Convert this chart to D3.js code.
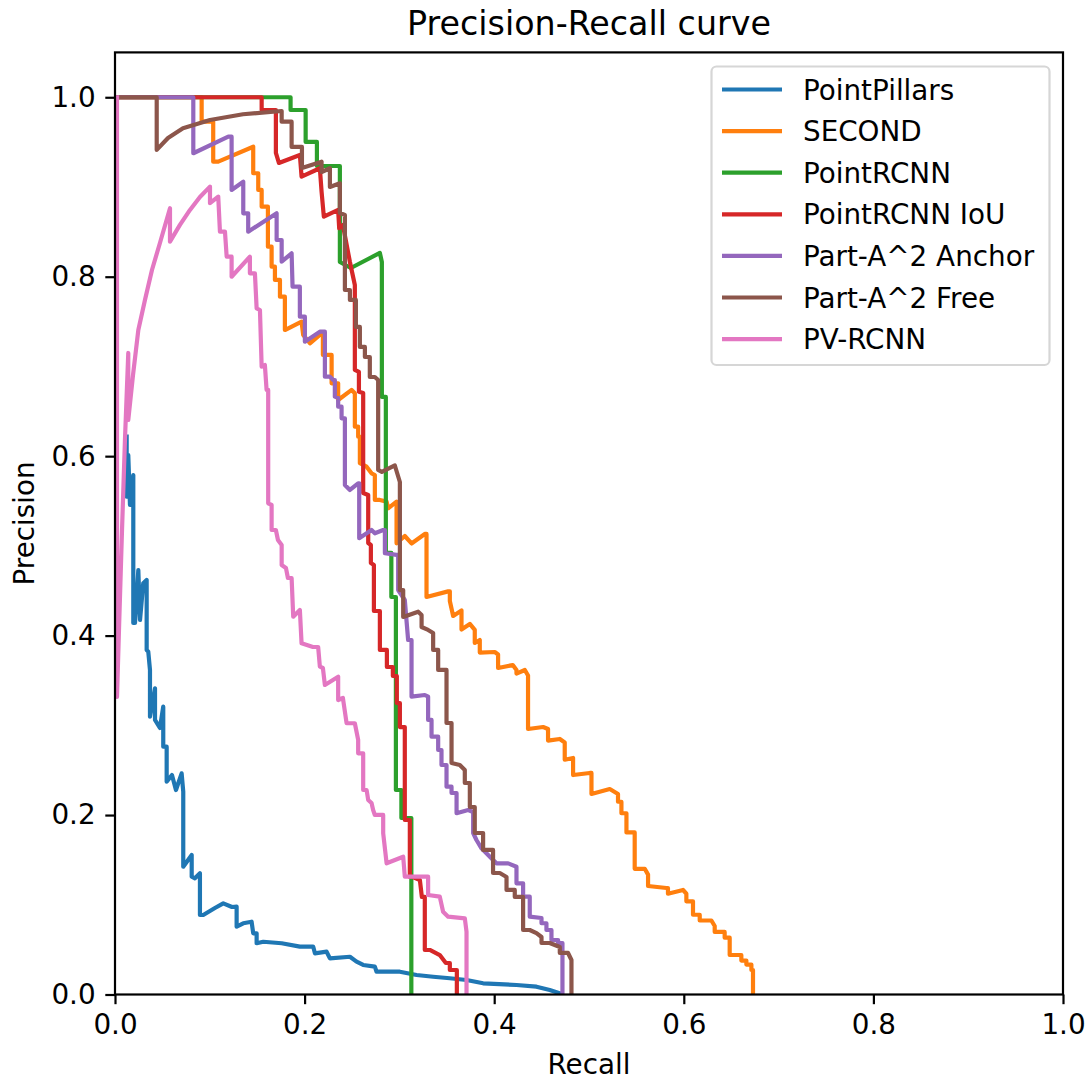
<!DOCTYPE html>
<html>
<head>
<meta charset="utf-8">
<script src="https://cdn.jsdelivr.net/npm/d3@7"></script>
<style>
  html, body { margin: 0; padding: 0; background: #fff; }
  svg { display: block; }
  text { font-family: "DejaVu Sans", sans-serif; fill: #000; }
</style>
</head>
<body>
<div id="chart"></div>
<script>
// ---------------- data (recall, precision) ----------------
const seriesNames = ["PointPillars", "SECOND", "PointRCNN", "PointRCNN IoU", "Part-A^2 Anchor", "Part-A^2 Free", "PV-RCNN"];
const seriesColors = ["#1f77b4", "#ff7f0e", "#2ca02c", "#d62728", "#9467bd", "#8c564b", "#e377c2"];
const xTicks = [0.0, 0.2, 0.4, 0.6, 0.8, 1.0];
const yTicks = [0.0, 0.2, 0.4, 0.6, 0.8, 1.0];

const pointPillars = [
  [0.0123,0.6217],[0.0123,0.5548],[0.0140,0.6013],[0.0158,0.5456],[0.0179,0.5679],[0.0193,0.5790],
  [0.0193,0.4141],[0.0211,0.4141],[0.0246,0.4731],[0.0264,0.4174],[0.0298,0.4583],[0.0334,0.4620],
  [0.0334,0.3840],[0.0351,0.3821],[0.0369,0.3617],[0.0369,0.3096],[0.0422,0.3413],[0.0422,0.3060],
  [0.0474,0.2970],[0.0509,0.3208],[0.0509,0.2762],[0.0545,0.2762],[0.0545,0.2372],[0.0601,0.2446],
  [0.0643,0.2279],[0.0703,0.2465],[0.0720,0.2260],[0.0720,0.1424],[0.0809,0.1555],[0.0809,0.1313],
  [0.0843,0.1295],[0.0896,0.1351],[0.0896,0.0886],[0.0931,0.0886],[0.1054,0.0964],[0.1142,0.1016],
  [0.1234,0.0975],[0.1283,0.0979],[0.1283,0.0756],[0.1353,0.0794],[0.1441,0.0811],[0.1458,0.0682],
  [0.1494,0.0682],[0.1494,0.0571],[0.1564,0.0588],[0.1758,0.0571],[0.1950,0.0533],[0.2091,0.0533],
  [0.2109,0.0459],[0.2232,0.0477],[0.2267,0.0403],[0.2478,0.0421],[0.2548,0.0366],[0.2618,0.0329],
  [0.2741,0.0310],[0.2759,0.0254],[0.3005,0.0254],[0.3181,0.0217],[0.3356,0.0198],[0.3532,0.0181],
  [0.3708,0.0162],[0.3883,0.0125],[0.4235,0.0106],[0.4446,0.0087],[0.4586,0.0050],[0.4692,0.0013]
];

const second = [
  [0,1],[0.0914,1],[0.0914,0.9728],[0.1036,0.9728],[0.1036,0.9282],[0.1089,0.9282],[0.1458,0.9449],
  [0.1458,0.9153],[0.1511,0.9153],[0.1511,0.8967],[0.1547,0.8967],[0.1547,0.8781],[0.1613,0.8781],
  [0.1613,0.8335],[0.1652,0.8335],[0.1652,0.8112],[0.1687,0.8112],[0.1687,0.7964],[0.1740,0.7964],
  [0.1740,0.7777],[0.1792,0.7777],[0.1792,0.7406],[0.1968,0.7499],[0.1985,0.7351],[0.2056,0.7258],
  [0.2161,0.7351],[0.2193,0.7351],[0.2193,0.7128],[0.2285,0.7128],[0.2285,0.6812],[0.2354,0.6812],
  [0.2354,0.6626],[0.2496,0.6738],[0.2530,0.6701],[0.2530,0.6329],[0.2565,0.6329],[0.2565,0.6217],
  [0.2583,0.6217],[0.2583,0.5921],[0.2654,0.5883],[0.2706,0.5809],[0.2741,0.5790],[0.2741,0.5512],
  [0.2794,0.5512],[0.2865,0.5493],[0.2881,0.5419],[0.2970,0.5493],[0.2970,0.5029],[0.3057,0.5110],
  [0.3128,0.5027],[0.3268,0.5133],[0.3286,0.5133],[0.3286,0.4430],[0.3514,0.4493],[0.3532,0.4493],
  [0.3532,0.4386],[0.3567,0.4219],[0.3655,0.4280],[0.3655,0.4067],[0.3743,0.4130],[0.3795,0.4063],
  [0.3795,0.3918],[0.3848,0.3951],[0.3848,0.3811],[0.4006,0.3817],[0.4041,0.3790],[0.4041,0.3639],
  [0.4196,0.3672],[0.4235,0.3617],[0.4235,0.3577],[0.4323,0.3617],[0.4357,0.3555],[0.4357,0.2959],
  [0.4516,0.2981],[0.4568,0.2959],[0.4568,0.2830],[0.4692,0.2848],[0.4744,0.2809],[0.4744,0.2617],
  [0.4832,0.2636],[0.4832,0.2446],[0.5008,0.2469],[0.5026,0.2469],[0.5026,0.2235],[0.5219,0.2290],
  [0.5306,0.2235],[0.5306,0.2148],[0.5342,0.2148],[0.5342,0.2020],[0.5395,0.2020],[0.5395,0.1806],
  [0.5482,0.1806],[0.5482,0.1401],[0.5588,0.1401],[0.5623,0.1336],[0.5623,0.1209],[0.5817,0.1187],
  [0.5833,0.1187],[0.5833,0.1123],[0.5992,0.1165],[0.6027,0.1123],[0.6027,0.1039],[0.6097,0.1039],
  [0.6097,0.0889],[0.6168,0.0889],[0.6168,0.0825],[0.6291,0.0825],[0.6326,0.0763],[0.6326,0.0697],
  [0.6431,0.0697],[0.6431,0.0633],[0.6484,0.0633],[0.6484,0.0440],[0.6607,0.0440],[0.6607,0.0378],
  [0.6660,0.0378],[0.6660,0.0334],[0.6713,0.0334],[0.6713,0.0273],[0.6730,0.0273],[0.6730,0]
];

const pointRcnn = [
  [0,1],[0.1852,1],[0.1852,0.9858],[0.2011,0.9858],[0.2011,0.9502],[0.2130,0.9502],[0.2130,0.9234],
  [0.2372,0.9234],[0.2372,0.8164],[0.2488,0.8097],[0.2794,0.8265],[0.2815,0.8164],[0.2815,0.6660],
  [0.2857,0.6660],[0.2857,0.4921],[0.2915,0.4921],[0.2915,0.4430],[0.2963,0.4430],[0.2963,0.2279],
  [0.3021,0.2279],[0.3021,0.1967],[0.3126,0.1967],[0.3126,0]
];

const pointRcnnIou = [
  [0,1],[0.1547,1],[0.1547,0.9858],[0.1697,0.9858],[0.1697,0.9379],[0.1729,0.9268],[0.1950,0.9357],
  [0.1968,0.9115],[0.2161,0.9209],[0.2179,0.8948],[0.2203,0.8669],[0.2354,0.8744],[0.2365,0.8540],
  [0.2404,0.8577],[0.2478,0.8164],[0.2530,0.7908],[0.2530,0.6961],[0.2573,0.6938],[0.2573,0.6719],
  [0.2618,0.6704],[0.2618,0.5590],[0.2671,0.5567],[0.2671,0.5032],[0.2699,0.5010],[0.2699,0.4809],
  [0.2731,0.4787],[0.2731,0.4274],[0.2794,0.4274],[0.2794,0.3840],[0.2868,0.3840],[0.2868,0.3650],
  [0.2931,0.3650],[0.2931,0.3550],[0.2973,0.3550],[0.2973,0.3249],[0.3005,0.3249],[0.3005,0.2981],
  [0.3057,0.2981],[0.3057,0.1945],[0.3110,0.1945],[0.3110,0.1310],[0.3142,0.1310],[0.3216,0.1276],
  [0.3237,0.1087],[0.3268,0.1087],[0.3268,0.0496],[0.3321,0.0496],[0.3426,0.0440],[0.3490,0.0351],
  [0.3532,0.0351],[0.3532,0.0273],[0.3606,0.0273],[0.3606,0]
];

const partA2Anchor = [
  [0,1],[0.0826,1],[0.0826,0.9376],[0.1195,0.9561],[0.1230,0.9561],[0.1230,0.8967],[0.1353,0.9059],
  [0.1353,0.8707],[0.1405,0.8707],[0.1405,0.8502],[0.1705,0.8707],[0.1705,0.8409],[0.1758,0.8409],
  [0.1758,0.8168],[0.1863,0.8261],[0.1873,0.7889],[0.1950,0.7889],[0.1950,0.7555],[0.2003,0.7555],
  [0.2003,0.7276],[0.2161,0.7387],[0.2214,0.7387],[0.2214,0.6886],[0.2267,0.6886],[0.2302,0.6849],
  [0.2319,0.6849],[0.2319,0.6663],[0.2354,0.6648],[0.2354,0.6551],[0.2390,0.6551],[0.2390,0.6422],
  [0.2425,0.6422],[0.2425,0.5679],[0.2478,0.5623],[0.2565,0.5698],[0.2576,0.5698],[0.2576,0.5085],
  [0.2706,0.5177],[0.2741,0.5140],[0.2829,0.5177],[0.2847,0.5177],[0.2847,0.4918],[0.2970,0.4899],
  [0.2987,0.4899],[0.2987,0.4508],[0.3057,0.4397],[0.3092,0.3951],[0.3128,0.3951],[0.3128,0.3319],
  [0.3268,0.3338],[0.3303,0.3319],[0.3303,0.3060],[0.3339,0.3060],[0.3339,0.2873],[0.3409,0.2873],
  [0.3409,0.2725],[0.3444,0.2725],[0.3444,0.2558],[0.3497,0.2558],[0.3497,0.2316],[0.3550,0.2316],
  [0.3550,0.2246],[0.3603,0.2246],[0.3603,0.2020],[0.3725,0.2056],[0.3778,0.2034],[0.3778,0.1800],
  [0.3813,0.1722],[0.3866,0.1629],[0.3988,0.1499],[0.4024,0.1462],[0.4147,0.1462],[0.4235,0.1424],
  [0.4235,0.1239],[0.4305,0.1239],[0.4305,0.1090],[0.4375,0.1090],[0.4375,0.0867],[0.4499,0.0853],
  [0.4499,0.0794],[0.4551,0.0794],[0.4551,0.0719],[0.4604,0.0719],[0.4604,0.0607],[0.4674,0.0607],
  [0.4674,0.0574],[0.4720,0.0574],[0.4720,0]
];

const partA2Free = [
  [0,1],[0.0440,1],[0.0440,0.9413],[0.0559,0.9546],[0.0717,0.9654],[0.1002,0.9747],[0.1350,0.9811],
  [0.1758,0.9847],[0.1758,0.9728],[0.1863,0.9728],[0.1863,0.9446],[0.1972,0.9446],[0.1972,0.9212],
  [0.2179,0.9282],[0.2179,0.9167],[0.2267,0.9209],[0.2267,0.9000],[0.2372,0.9041],[0.2372,0.8710],
  [0.2425,0.8688],[0.2425,0.7852],[0.2478,0.7852],[0.2478,0.7741],[0.2541,0.7741],[0.2541,0.7440],
  [0.2583,0.7440],[0.2583,0.7217],[0.2636,0.7217],[0.2636,0.7105],[0.2688,0.7105],[0.2688,0.6882],
  [0.2741,0.6882],[0.2776,0.6849],[0.2776,0.5846],[0.2815,0.5824],[0.2952,0.5896],[0.3005,0.5712],
  [0.3005,0.4508],[0.3040,0.4508],[0.3040,0.4208],[0.3198,0.4267],[0.3234,0.4230],[0.3234,0.4096],
  [0.3303,0.4063],[0.3356,0.4029],[0.3356,0.3840],[0.3409,0.3840],[0.3409,0.3617],[0.3497,0.3617],
  [0.3497,0.3026],[0.3550,0.3026],[0.3550,0.2580],[0.3637,0.2558],[0.3690,0.2502],[0.3690,0.2357],
  [0.3743,0.2357],[0.3743,0.2090],[0.3795,0.2090],[0.3795,0.1800],[0.3883,0.1800],[0.3883,0.1611],
  [0.3988,0.1611],[0.3988,0.1354],[0.4059,0.1354],[0.4130,0.1310],[0.4130,0.1165],[0.4217,0.1165],
  [0.4217,0.1087],[0.4305,0.1087],[0.4305,0.0719],[0.4375,0.0719],[0.4446,0.0685],[0.4499,0.0641],
  [0.4499,0.0574],[0.4586,0.0574],[0.4692,0.0529],[0.4692,0.0463],[0.4779,0.0463],[0.4815,0.0385],
  [0.4815,0]
];

const pvRcnn = [
  [0.0021,1],[0.0021,0.3316],[0.0042,0.4063],[0.0074,0.5177],[0.0105,0.6180],[0.0140,0.7150],
  [0.0140,0.6403],[0.0190,0.6905],[0.0246,0.7406],[0.0316,0.7741],[0.0390,0.8075],[0.0474,0.8376],
  [0.0580,0.8763],[0.0580,0.8391],[0.0685,0.8577],[0.0791,0.8744],[0.0896,0.8889],[0.1002,0.9004],
  [0.1002,0.8819],[0.1089,0.8892],[0.1107,0.8502],[0.1160,0.8502],[0.1178,0.8223],[0.1230,0.8223],
  [0.1230,0.8000],[0.1423,0.8223],[0.1423,0.8038],[0.1476,0.8038],[0.1494,0.7648],[0.1529,0.7629],
  [0.1547,0.6997],[0.1581,0.7016],[0.1599,0.6738],[0.1616,0.6738],[0.1616,0.5475],[0.1652,0.5456],
  [0.1652,0.5177],[0.1697,0.5177],[0.1719,0.5066],[0.1758,0.5010],[0.1758,0.4787],[0.1803,0.4754],
  [0.1824,0.4642],[0.1863,0.4642],[0.1880,0.4211],[0.1950,0.4286],[0.1968,0.3914],[0.2088,0.3873],
  [0.2143,0.3873],[0.2161,0.3654],[0.2193,0.3639],[0.2214,0.3450],[0.2354,0.3542],[0.2354,0.3282],
  [0.2404,0.3305],[0.2443,0.3023],[0.2530,0.3023],[0.2565,0.2837],[0.2565,0.2688],[0.2618,0.2688],
  [0.2618,0.2279],[0.2654,0.2279],[0.2671,0.2168],[0.2706,0.2134],[0.2723,0.2056],[0.2741,0.2001],
  [0.2829,0.2001],[0.2829,0.1797],[0.2865,0.1462],[0.3040,0.1536],[0.3057,0.1313],[0.3128,0.1313],
  [0.3303,0.1313],[0.3303,0.1109],[0.3426,0.1090],[0.3461,0.0923],[0.3514,0.0867],[0.3690,0.0849],
  [0.3708,0.0700],[0.3708,0]
];

const seriesData = [pointPillars, second, pointRcnn, pointRcnnIou, partA2Anchor, partA2Free, pvRcnn];

// ---------------- layout ----------------
const W = 1092, H = 1085;
const plot = { left: 115, right: 1063, top: 52.4, bottom: 994.5 };
const fontSize = 27.8;
const lineW = 4.2;
const spineW = 2.2;
const tickLen = 9.7;

const svg = d3.select("#chart").append("svg")
  .attr("width", W).attr("height", H)
  .attr("viewBox", `0 0 ${W} ${H}`);
svg.append("rect").attr("width", W).attr("height", H).attr("fill", "#fff");

const x = d3.scaleLinear().domain([0, 1]).range([plot.left, plot.right]);
const y = d3.scaleLinear().domain([0, 1.05]).range([plot.bottom, plot.top]);

svg.append("defs").append("clipPath").attr("id", "clip")
  .append("rect")
  .attr("x", plot.left).attr("y", plot.top)
  .attr("width", plot.right - plot.left).attr("height", plot.bottom - plot.top);

// lines
const line = d3.line().x(d => x(d[0])).y(d => y(d[1]));
const linesG = svg.append("g").attr("clip-path", "url(#clip)");
seriesData.forEach((data, i) => {
  linesG.append("path")
    .attr("d", line(data))
    .attr("fill", "none")
    .attr("stroke", seriesColors[i])
    .attr("stroke-width", lineW)
    .attr("stroke-linejoin", "round")
    .attr("stroke-linecap", "square");
});

// axes
const xAxis = d3.axisBottom(x).tickValues(xTicks).tickFormat(d3.format(".1f")).tickSizeOuter(0).tickSize(tickLen).tickPadding(9.7);
const yAxis = d3.axisLeft(y).tickValues(yTicks).tickFormat(d3.format(".1f")).tickSizeOuter(0).tickSize(tickLen).tickPadding(9.7);

const gx = svg.append("g").attr("transform", `translate(0,${plot.bottom})`).call(xAxis);
const gy = svg.append("g").attr("transform", `translate(${plot.left},0)`).call(yAxis);
[gx, gy].forEach(g => {
  g.select(".domain").remove();
  g.selectAll(".tick line").attr("stroke", "#000").attr("stroke-width", spineW);
  g.selectAll(".tick text").attr("font-size", fontSize).attr("font-family", "DejaVu Sans").attr("fill", "#000");
});

// spines
svg.append("rect")
  .attr("x", plot.left).attr("y", plot.top)
  .attr("width", plot.right - plot.left).attr("height", plot.bottom - plot.top)
  .attr("fill", "none").attr("stroke", "#000").attr("stroke-width", spineW);

// title and labels
svg.append("text").attr("x", (plot.left + plot.right) / 2).attr("y", 35)
  .attr("text-anchor", "middle").attr("font-size", 33.3).text("Precision-Recall curve");
svg.append("text").attr("x", (plot.left + plot.right) / 2).attr("y", 1074)
  .attr("text-anchor", "middle").attr("font-size", fontSize).text("Recall");
svg.append("text")
  .attr("transform", `translate(34,${(plot.top + plot.bottom) / 2}) rotate(-90)`)
  .attr("text-anchor", "middle").attr("font-size", fontSize).text("Precision");

// legend
const leg = svg.append("g");
leg.append("rect")
  .attr("x", 711.5).attr("y", 66.5).attr("width", 338).attr("height", 298.5)
  .attr("rx", 5).attr("ry", 5)
  .attr("fill", "#fff").attr("fill-opacity", 0.8)
  .attr("stroke", "#d6d6d6").attr("stroke-width", 2.2);
seriesNames.forEach((name, i) => {
  const cy = 89.5 + i * 41.6;
  leg.append("line")
    .attr("x1", 722).attr("x2", 782).attr("y1", cy).attr("y2", cy)
    .attr("stroke", seriesColors[i]).attr("stroke-width", lineW);
  leg.append("text")
    .attr("x", 803).attr("y", cy + 10)
    .attr("font-size", fontSize).text(name);
});
</script>
</body>
</html>
